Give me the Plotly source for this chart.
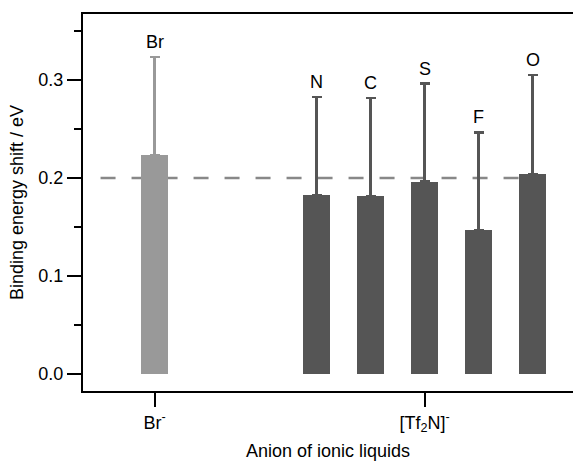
import plotly.graph_objects as go

# Binding energy shifts (eV) by ionic-liquid anion and element
br_pos = [0]
br_values = [0.2235]
br_errors = [0.100]
br_labels = ["Br"]

tf2n_pos = [3, 4, 5, 6, 7]
tf2n_values = [0.1827, 0.1816, 0.1963, 0.1466, 0.2040]
tf2n_errors = [0.100, 0.100, 0.100, 0.100, 0.101]
tf2n_labels = ["N", "C", "S", "F", "O"]

tick_positions = [0, 5]
tick_labels = ["Br<sup>-</sup>", "[Tf<sub>2</sub>N]<sup>-</sup>"]

reference_level = 0.2

FONT = "Liberation Sans, Arial, Helvetica, sans-serif"
LIGHT = "#999999"
DARK = "#555555"

fig = go.Figure()


def add_group(pos, vals, errs, color):
    fig.add_trace(go.Bar(
        x=pos, y=vals, width=0.5,
        marker=dict(color=color, line=dict(width=0)),
        error_y=dict(type="data", symmetric=False, array=errs,
                     arrayminus=[0] * len(errs), color=color,
                     thickness=2.5, width=5),
        showlegend=False,
    ))


add_group(br_pos, br_values, br_errors, LIGHT)
add_group(tf2n_pos, tf2n_values, tf2n_errors, DARK)

for pos, vals, errs, labels in [(br_pos, br_values, br_errors, br_labels),
                                (tf2n_pos, tf2n_values, tf2n_errors, tf2n_labels)]:
    for p, v, e, t in zip(pos, vals, errs, labels):
        fig.add_annotation(x=p, y=v + e, text=t, showarrow=False,
                           yanchor="middle", yshift=15,
                           font=dict(family=FONT, size=18, color="black"))

# Dashed reference level, drawn beneath the bars
fig.add_shape(type="line", x0=-1, x1=7.25, y0=reference_level, y1=reference_level,
              line=dict(color="#888888", width=2.5, dash="15px,16px"), layer="below")

fig.update_layout(
    width=573, height=461,
    margin=dict(l=83, r=0, t=14, b=70),
    plot_bgcolor="white", paper_bgcolor="white",
    font=dict(family=FONT, size=18, color="black"),
    bargap=0,
    xaxis=dict(
        range=[-1.325, 7.75],
        tickvals=tick_positions, ticktext=tick_labels,
        ticks="outside", ticklen=14, tickwidth=2, tickcolor="black",
        showline=True, linewidth=2, linecolor="black", mirror=True,
        showgrid=False, zeroline=False,
        title=dict(text="Anion of ionic liquids", standoff=11,
                   font=dict(size=18)),
    ),
    yaxis=dict(
        range=[-0.01735, 0.3673],
        tickvals=[0.0, 0.1, 0.2, 0.3], ticktext=["0.0", "0.1", "0.2", "0.3"],
        ticks="outside", ticklen=14, tickwidth=2, tickcolor="black",
        minor=dict(tickvals=[0.05, 0.15, 0.25, 0.35], ticks="outside",
                   ticklen=7, tickwidth=2, tickcolor="black", showgrid=False),
        showline=True, linewidth=2, linecolor="black",
        showgrid=False, zeroline=False,
        title=dict(text="Binding energy shift / eV", standoff=10,
                   font=dict(size=18)),
    ),
)

fig.write_html("out.html")
